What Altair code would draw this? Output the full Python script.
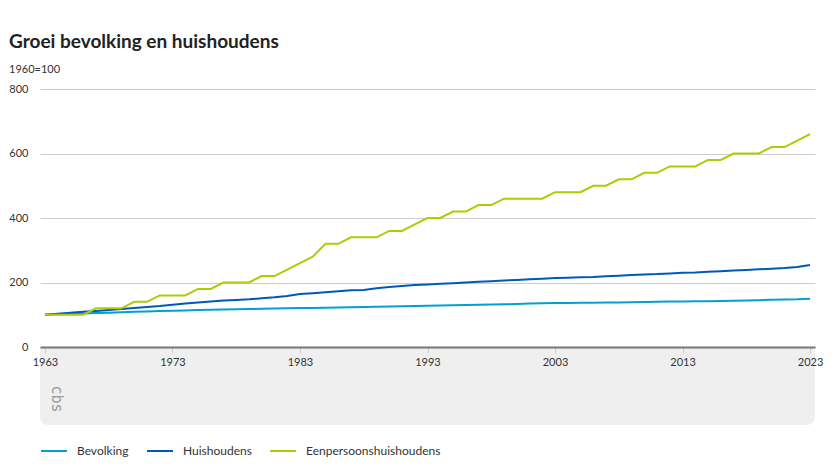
import altair as alt
import pandas as pd

years = list(range(1963, 2024))

bevolking = [100.0, 101.3, 102.7, 104.1, 105.5, 106.5, 107.7,
             109.0, 110.3, 111.6, 112.6, 113.5, 114.4, 115.5, 116.1, 116.9, 117.7,
             118.5, 119.5, 120.2, 120.6, 121.0, 121.5, 122.2, 123.0, 123.7, 124.6,
             125.2, 126.2, 127.3, 128.2, 129.0, 129.7, 130.3, 131.0, 131.6, 132.5,
             133.4, 134.5, 135.5, 136.2, 136.8, 137.2, 137.3, 137.6, 138.0, 138.7,
             139.4, 140.1, 140.7, 141.1, 141.5, 142.1, 142.8, 143.6, 144.5, 145.3,
             146.4, 147.0, 147.9, 149.8]

huishoudens = [100, 103, 106, 109, 112, 115, 118,
               121, 124, 127, 131, 135, 138, 141, 144, 146, 148,
               151, 154, 158, 164, 167, 170, 173, 176, 177, 182,
               186, 189, 192, 194, 196, 198, 200, 202, 204, 206,
               208, 210, 212, 214, 215, 216, 217, 219, 221, 223,
               225, 226, 228, 230, 231, 233, 235, 237, 239, 241,
               243, 245, 248, 254]

eenpersoons = [100, 100, 100, 100, 120, 120, 120,
               140, 140, 160, 160, 160, 180, 180, 200, 200, 200,
               220, 220, 240, 260, 280, 320, 320, 340, 340, 340,
               360, 360, 380, 400, 400, 420, 420, 440, 440, 460,
               460, 460, 460, 480, 480, 480, 500, 500, 520, 520,
               540, 540, 560, 560, 560, 580, 580, 600, 600, 600,
               620, 620, 640, 660]

series_names = ["Bevolking", "Huishoudens", "Eenpersoonshuishoudens"]
colors = ["#00a1cd", "#0058b8", "#afcb05"]
x_ticks = [1963, 1973, 1983, 1993, 2003, 2013, 2023]
y_ticks = [0, 200, 400, 600, 800]

assert len(bevolking) == len(years) == len(huishoudens) == len(eenpersoons)

rows = []
for name, vals in zip(series_names, [bevolking, huishoudens, eenpersoons]):
    for yr, v in zip(years, vals):
        rows.append({"jaar": yr, "serie": name, "index": v})
df = pd.DataFrame(rows)

W, H = 775, 258
FONT = "Lato"

band = alt.Chart(pd.DataFrame({"a": [0]})).mark_rect(
    color="#efefef", cornerRadiusBottomLeft=8, cornerRadiusBottomRight=8
).encode(
    x=alt.value(0), x2=alt.value(W), y=alt.value(H + 1), y2=alt.value(H + 78)
)

logo = alt.Chart(pd.DataFrame({"a": [0]})).mark_text(
    text="cbs", angle=90, fontSize=15, color="#9a9a9a", font="DejaVu Sans Mono",
    align="center", baseline="middle"
).encode(x=alt.value(17), y=alt.value(H + 52))

lines = alt.Chart(df).mark_line(strokeWidth=2).encode(
    x=alt.X("jaar:Q",
            scale=alt.Scale(domain=[1962.61, 2023.39], nice=False, zero=False),
            axis=alt.Axis(values=x_ticks, format="d", title=None, grid=False,
                          domainColor="#777777", domainWidth=2,
                          tickColor="#cccccc", tickSize=6, labelPadding=3,
                          labelFontSize=11, labelColor="#333333", labelFont=FONT,
                          labelFlush=False, zindex=1)),
    y=alt.Y("index:Q",
            scale=alt.Scale(domain=[0, 800], nice=False),
            axis=alt.Axis(values=y_ticks, title=None, domain=False, ticks=False,
                          gridColor="#cccccc", labelPadding=12,
                          labelFontSize=11, labelColor="#333333", labelFont=FONT)),
    color=alt.Color("serie:N",
                    scale=alt.Scale(domain=series_names, range=colors),
                    legend=alt.Legend(orient="none", legendX=0, legendY=H + 90,
                                      direction="horizontal", title=None,
                                      symbolType="stroke", symbolSize=676,
                                      symbolStrokeWidth=2, labelOffset=9,
                                      columnPadding=14, labelFontSize=12,
                                      labelColor="#333333", labelFont=FONT)),
)

chart = alt.layer(band, logo, lines).properties(
    width=W, height=H,
    padding={"left": 32, "top": 81, "right": 10, "bottom": 118},
    autosize=alt.AutoSizeParams(type="none"),
    title=alt.TitleParams(
        text="Groei bevolking en huishoudens", subtitle="1960=100",
        anchor="start", frame="group", dx=-31, offset=8,
        font=FONT, fontSize=19, fontWeight="bold", color="#222222",
        subtitleFont=FONT, subtitleFontSize=11, subtitleColor="#333333",
        subtitlePadding=12,
    ),
).configure_view(stroke=None)

chart.save("out.html", embed_options={"renderer": "svg", "actions": False})
